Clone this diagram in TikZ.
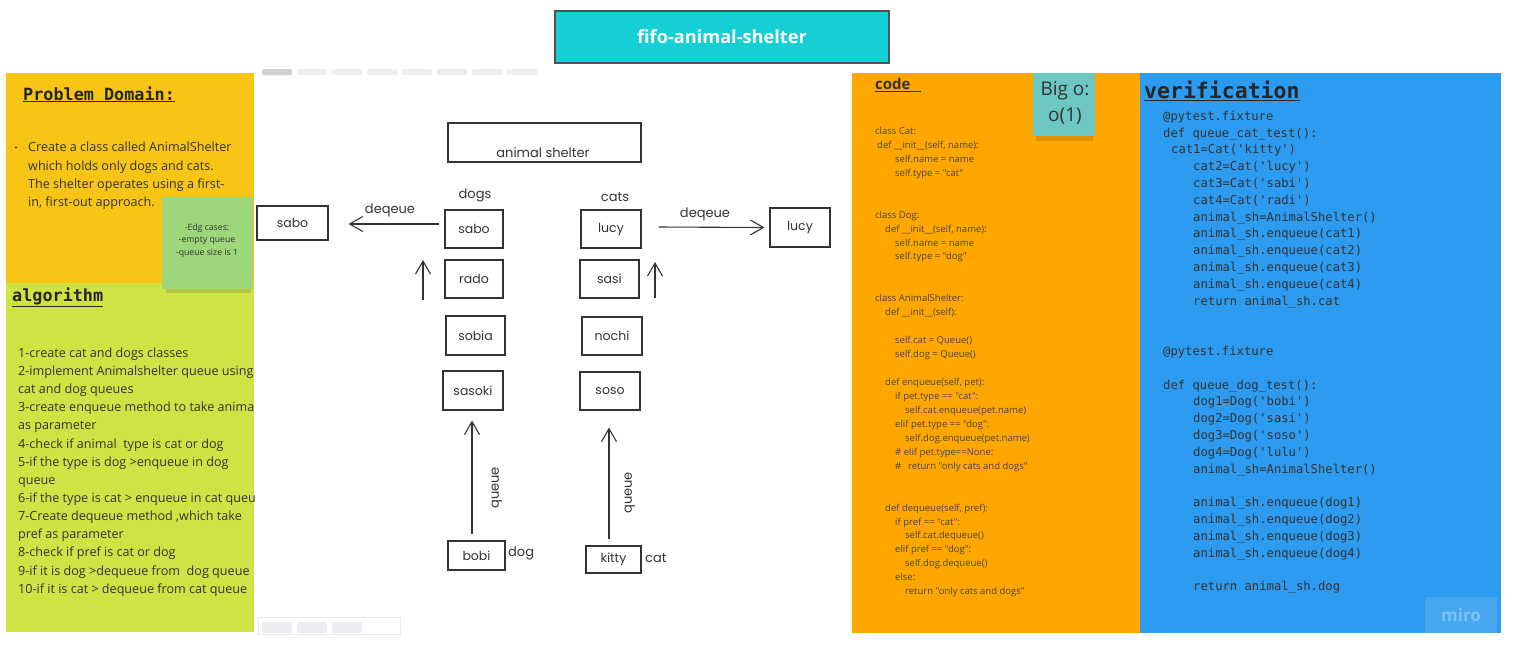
\documentclass[tikz,border=0pt]{standalone}
\usepackage{fontspec}
\setmainfont{Open Sans}[Ligatures=TeXOff]
\newfontfamily\monof{DejaVu Sans Mono}[Ligatures=TeXOff]
\newfontfamily\sketchf{Poppins}[Ligatures=TeXOff]
\usetikzlibrary{arrows.meta}
\definecolor{pyellow}{RGB}{248,197,22}
\definecolor{plime}{RGB}{206,228,68}
\definecolor{porange}{RGB}{255,166,0}
\definecolor{pblue}{RGB}{45,155,240}
\definecolor{pgreen}{RGB}{158,214,122}
\definecolor{pteal}{RGB}{108,198,193}
\definecolor{ptitle}{RGB}{20,207,214}
\definecolor{ink}{RGB}{51,51,51}
\definecolor{uigray}{RGB}{236,238,241}
\newcommand\myAlg[3]{\node[algtxt] (#1) at (18,{357.3+18.15*#2}) {#3};}
\newcommand\myCode[4]{\node[codetxt] (#1) at (#2,{134.4+13.95*#3}) {#4};}
\newcommand\myVer[4]{\node[vertxt] (#1) at (#2,{120.2+16.8*#3}) {#4};}
\begin{document}
\begin{tikzpicture}[x=1pt,y=-1pt,
  algtxt/.style={anchor=base west,inner sep=0,text=ink,font=\fontsize{12.6}{15}\selectfont},
  codetxt/.style={anchor=base west,inner sep=0,text=ink!90,font=\fontsize{9.5}{11}\selectfont},
  vertxt/.style={anchor=base west,inner sep=0,text=ink,font=\monof\fontsize{12.2}{14}\selectfont},
  headmono/.style={anchor=base west,inner sep=0,text=black!85,font=\monof\bfseries},
  skbox/.style={draw=ink,line width=1.1pt,inner sep=0,font=\sketchf\fontsize{12.5}{14}\selectfont,text=ink},
  sklbl/.style={inner sep=0,font=\sketchf\fontsize{13}{15}\selectfont,text=ink},
  skarrow/.style={draw=ink,line width=1.1pt,-{Straight Barb[length=13pt,width=15pt,line width=1.1pt]}},
]
\useasboundingbox (0,0) rectangle (1520,657);
\fill[white] (0,0) rectangle (1520,657);

% title
\node[draw=ink!85,line width=1.2pt,fill=ptitle,minimum width=334,minimum height=52,inner sep=0,
  font=\bfseries\fontsize{18.2}{21}\selectfont,text=white] (title) at (722,37) {fifo-animal-shelter};

% UI bars of the sketch frame
\foreach \i in {0,...,7}{\fill[uigray,rounded corners=1.5] ({262+35*\i},69) rectangle ({292+35*\i},75);}
\fill[black!18,rounded corners=1.5] (262,69) rectangle (292,75);
\draw[black!8,fill=white] (258,617) rectangle (400,634);
\foreach \i in {0,1,2}{\fill[uigray,rounded corners=1.5] ({262+35*\i},622) rectangle ({292+35*\i},633);}

% problem domain panel
\fill[pyellow] (6,73) rectangle (254,283);
\node[headmono,font=\monof\bfseries\fontsize{16.8}{20}\selectfont] (pdh) at (23,100) {\underline{Problem Domain:}};
\fill[ink] (16,147.5) circle (1.1);
\node[algtxt] (pd1) at (28,151.8) {Create a class called AnimalShelter};
\node[algtxt] (pd2) at (28,170.1) {which holds only dogs and cats.};
\node[algtxt] (pd3) at (28,188.4) {The shelter operates using a first-};
\node[algtxt] (pd4) at (28,206.7) {in, first-out approach.};

% algorithm panel
\fill[plime] (6,283) rectangle (254,632);
\node[headmono,font=\monof\bfseries\fontsize{16.8}{20}\selectfont] (algh) at (12,301) {\underline{algorithm}};
\begin{scope}
\clip (6,283) rectangle (254,632);
\myAlg{a0}{0}{1-create cat and dogs classes}
\myAlg{a1}{1}{2-implement Animalshelter queue using}
\myAlg{a2}{2}{cat and dog queues}
\myAlg{a3}{3}{3-create enqueue method to take animal}
\myAlg{a4}{4}{as parameter}
\myAlg{a5}{5}{4-check if animal\ \ type is cat or dog}
\myAlg{a6}{6}{5-if the type is dog >enqueue in dog}
\myAlg{a7}{7}{queue}
\myAlg{a8}{8}{6-if the type is cat > enqueue in cat queue}
\myAlg{a9}{9}{7-Create dequeue method ,which take}
\myAlg{a10}{10}{pref as parameter}
\myAlg{a11}{11}{8-check if pref is cat or dog}
\myAlg{a12}{12}{9-if it is dog >dequeue from\ \ dog queue}
\myAlg{a13}{13}{10-if it is cat > dequeue from cat queue}
\end{scope}

% green sticky note
\fill[black,opacity=0.12] (166,284) rectangle (251,293);
\fill[pgreen] (162,197) rectangle (253,289);
\node[inner sep=0,align=center,text=ink,font=\fontsize{8.7}{12.5}\selectfont] (edge) at (207,240.5)
  {-Edg cases:\\-empty queue\\-queue size is 1};

% code panel
\fill[porange] (852,73) rectangle (1138,633);
\node[anchor=base west,inner sep=0,text=ink,font=\bfseries\fontsize{15}{18}\selectfont] (codeh) at (875,89.5) {\underline{code\hspace{10pt}}};
\myCode{c0}{875}{0}{class Cat:}
\myCode{c1}{877}{1}{def \_\_init\_\_(self, name):}
\myCode{c2}{895}{2}{self.name = name}
\myCode{c3}{895}{3}{self.type = "cat"}
\myCode{c6}{875}{6}{class Dog:}
\myCode{c7}{885}{7}{def \_\_init\_\_(self, name):}
\myCode{c8}{895}{8}{self.name = name}
\myCode{c9}{895}{9}{self.type = "dog"}
\myCode{c12}{875}{12}{class AnimalShelter:}
\myCode{c13}{885}{13}{def \_\_init\_\_(self):}
\myCode{c15}{895}{15}{self.cat = Queue()}
\myCode{c16}{895}{16}{self.dog = Queue()}
\myCode{c18}{885}{18}{def enqueue(self, pet):}
\myCode{c19}{895}{19}{if pet.type == "cat":}
\myCode{c20}{905}{20}{self.cat.enqueue(pet.name)}
\myCode{c21}{895}{21}{elif pet.type == "dog":}
\myCode{c22}{905}{22}{self.dog.enqueue(pet.name)}
\myCode{c23}{895}{23}{\# elif pet.type==None:}
\myCode{c24a}{895}{24}{\#}
\myCode{c24}{908}{24}{return "only cats and dogs"}
\myCode{c27}{885}{27}{def dequeue(self, pref):}
\myCode{c28}{895}{28}{if pref == "cat":}
\myCode{c29}{905}{29}{self.cat.dequeue()}
\myCode{c30}{895}{30}{elif pref == "dog":}
\myCode{c31}{905}{31}{self.dog.dequeue()}
\myCode{c32}{895}{32}{else:}
\myCode{c33}{905}{33}{return "only cats and dogs"}

% Big o sticky
\fill[black,opacity=0.12] (1036,132) rectangle (1093,141);
\fill[pteal] (1033,73) rectangle (1095,136);
\node[inner sep=0,align=center,text=ink,font=\fontsize{19}{26}\selectfont] (bigo) at (1065,103) {Big o:\\o(1)};

% verification panel
\fill[pblue] (1138,73) rectangle (1501,633);
\fill[porange] (1137,73) rectangle (1139.5,633);
\node[headmono,font=\monof\bfseries\fontsize{21.5}{24}\selectfont] (verh) at (1144,98.5) {\underline{verification}};
\myVer{v0}{1163}{0}{@pytest.fixture}
\myVer{v1}{1163}{1}{def queue\_cat\_test():}
\myVer{v2}{1171}{2}{cat1=Cat('kitty')}
\myVer{v3}{1193}{3}{cat2=Cat('lucy')}
\myVer{v4}{1193}{4}{cat3=Cat('sabi')}
\myVer{v5}{1193}{5}{cat4=Cat('radi')}
\myVer{v6}{1193}{6}{animal\_sh=AnimalShelter()}
\myVer{v7}{1193}{7}{animal\_sh.enqueue(cat1)}
\myVer{v8}{1193}{8}{animal\_sh.enqueue(cat2)}
\myVer{v9}{1193}{9}{animal\_sh.enqueue(cat3)}
\myVer{v10}{1193}{10}{animal\_sh.enqueue(cat4)}
\myVer{v11}{1193}{11}{return animal\_sh.cat}
\myVer{v14}{1163}{14}{@pytest.fixture}
\myVer{v16}{1163}{16}{def queue\_dog\_test():}
\myVer{v17}{1193}{17}{dog1=Dog('bobi')}
\myVer{v18}{1193}{18}{dog2=Dog('sasi')}
\myVer{v19}{1193}{19}{dog3=Dog('soso')}
\myVer{v20}{1193}{20}{dog4=Dog('lulu')}
\myVer{v21}{1193}{21}{animal\_sh=AnimalShelter()}
\myVer{v23}{1193}{23}{animal\_sh.enqueue(dog1)}
\myVer{v24}{1193}{24}{animal\_sh.enqueue(dog2)}
\myVer{v25}{1193}{25}{animal\_sh.enqueue(dog3)}
\myVer{v26}{1193}{26}{animal\_sh.enqueue(dog4)}
\myVer{v28}{1193}{28}{return animal\_sh.dog}
\fill[white,opacity=0.12] (1425,597) rectangle (1497,633);
\node[inner sep=0,text=white,opacity=0.3,font=\bfseries\fontsize{17}{20}\selectfont] (miro) at (1461,615) {miro};

% sketch
\node[skbox,minimum width=193,minimum height=39] (shelter) at (544.5,142.5) {};
\node[sklbl] (shelterlbl) at (543,153) {animal shelter};
\node[sklbl] (dogs) at (475,195) {dogs};
\node[sklbl] (cats) at (615,197) {cats};
\node[skbox,minimum width=71,minimum height=34] (osabo) at (292.5,223) {sabo};
\node[skbox,minimum width=58,minimum height=38] (dsabo) at (474,229) {sabo};
\node[skbox,minimum width=58,minimum height=38] (rado) at (474,279) {rado};
\node[skbox,minimum width=59,minimum height=39] (sobia) at (475.5,335.5) {sobia};
\node[skbox,minimum width=60,minimum height=39] (sasoki) at (473,390.5) {sasoki};
\node[skbox,minimum width=57,minimum height=29] (bobi) at (476.5,555.5) {bobi};
\node[sklbl,anchor=west] (doglbl) at (508,553) {dog};
\node[skbox,minimum width=60,minimum height=38] (clucy) at (611,229) {lucy};
\node[skbox,minimum width=59,minimum height=38] (sasi) at (609.5,279) {sasi};
\node[skbox,minimum width=60,minimum height=38] (nochi) at (612,336) {nochi};
\node[skbox,minimum width=60,minimum height=38] (soso) at (610,391) {soso};
\node[skbox,minimum width=60,minimum height=39] (olucy) at (800,227.5) {lucy};
\node[skbox,minimum width=55,minimum height=27] (kitty) at (613.5,559.5) {kitty};
\node[sklbl,anchor=west] (catlbl) at (645,558) {cat};

\draw[skarrow] ([shift={(-5,-5)}]dsabo.west) -- ([shift={(20,1)}]osabo.east);
\node[sklbl] (deq1) at (390,210) {deqeue};
\draw[skarrow] ([shift={(17,-2)}]clucy.east) -- ([xshift=-5]olucy.west);
\node[sklbl] (deq2) at (705,214) {deqeue};
\coordinate (dupA) at (423,300);
\coordinate (dupB) at (423,260);
\draw[skarrow] (dupA) -- (dupB);
\coordinate (cupA) at (655,298);
\coordinate (cupB) at (655,262);
\draw[skarrow] (cupA) -- (cupB);
\draw[skarrow] ([shift={(-4.5,-6)}]bobi.north) -- ([shift={(-1,10)}]sasoki.south);
\node[sklbl,rotate=90] (q1) at (497,488) {queue};
\draw[skarrow] ([shift={(-4.5,-6)}]kitty.north) -- ([shift={(-1,17)}]soso.south);
\node[sklbl,rotate=90] (q2) at (630,493) {queue};
\end{tikzpicture}
\end{document}
